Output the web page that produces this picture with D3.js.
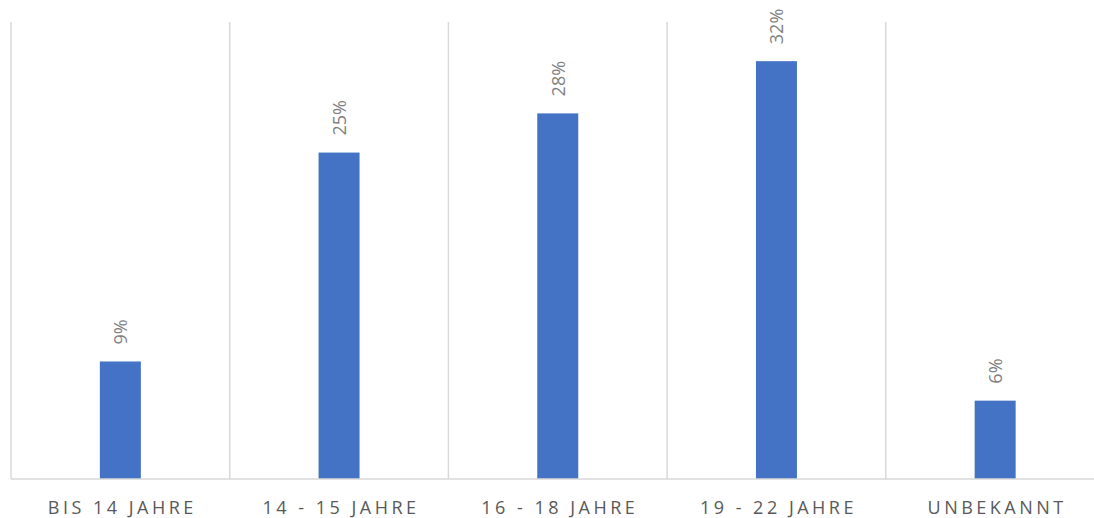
<!DOCTYPE html>
<html><head><meta charset="utf-8">
<script src="https://cdn.jsdelivr.net/npm/d3@7"></script>
<style>body{margin:0;background:#fff}svg{display:block}</style>
</head><body>
<script>
const categories = ["BIS 14 JAHRE", "14 - 15 JAHRE", "16 - 18 JAHRE", "19 - 22 JAHRE", "UNBEKANNT"];
const values = [9, 25, 28, 32, 6];
const labels = ["9%", "25%", "28%", "32%", "6%"];

const W = 1094, H = 518;
const svg = d3.select("body").append("svg").attr("width", W).attr("height", H);
const x = d3.scaleBand().domain(categories).range([11, 1104.5]).paddingInner(0).paddingOuter(0);
const y = d3.scaleLinear().domain([0, 35]).range([479, 22]);
const barW = 41;

// vertical grid separators
const seps = categories.map((c) => x(c)).concat([x(categories[categories.length-1]) + x.bandwidth()]);
svg.append("g").selectAll("line").data(seps).join("line")
  .attr("x1", d => d).attr("x2", d => d).attr("y1", y(35)).attr("y2", y(0))
  .attr("stroke", "#d9d9d9").attr("stroke-width", 1.5);

svg.append("g").selectAll("rect").data(values).join("rect")
  .attr("x", (d, i) => x(categories[i]) + x.bandwidth()/2 - barW/2)
  .attr("width", barW)
  .attr("y", d => y(d))
  .attr("height", d => y(0) - y(d))
  .attr("fill", "#4472c4");

// baseline
svg.append("line").attr("x1", 11).attr("x2", W).attr("y1", y(0)).attr("y2", y(0))
  .attr("stroke", "#d9d9d9").attr("stroke-width", 1.5);

// data labels
svg.append("g").selectAll("text").data(values).join("text")
  .attr("transform", (d, i) => `translate(${x(categories[i]) + x.bandwidth()/2},${y(d) - 17}) rotate(-90)`)
  .attr("text-anchor", "start").attr("dominant-baseline", "central")
  .attr("font-family", "'Open Sans', sans-serif").attr("font-size", 18)
  .attr("fill", "#7f7f7f").text((d, i) => labels[i]);

// category labels
svg.append("g").selectAll("text").data(categories).join("text")
  .attr("x", d => x(d) + x.bandwidth()/2 + 2)
  .attr("y", 514)
  .attr("text-anchor", "middle")
  .attr("font-family", "'Open Sans', sans-serif").attr("font-size", 18)
  .attr("letter-spacing", "3.5px")
  .attr("fill", "#595959").text(d => d);
</script>
</body></html>
